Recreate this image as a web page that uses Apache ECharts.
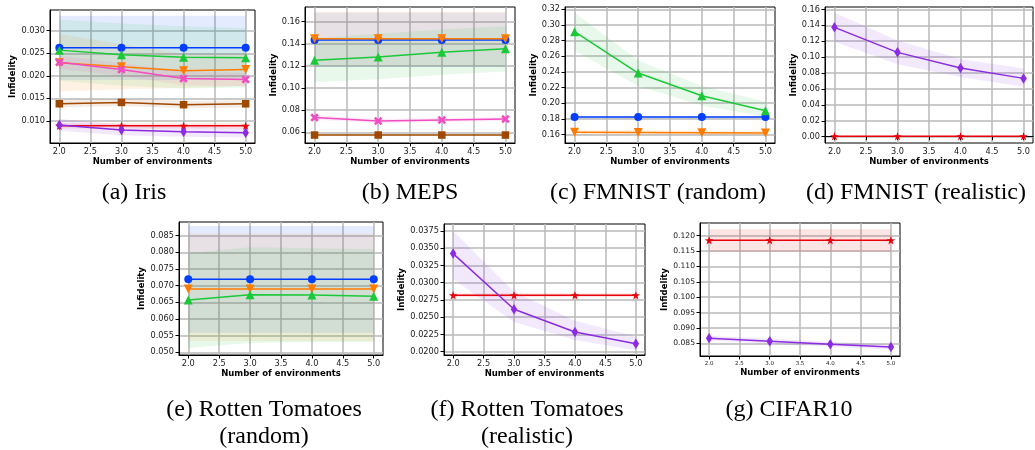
<!DOCTYPE html>
<html><head><meta charset="utf-8">
<script src="https://cdn.jsdelivr.net/npm/echarts@6/dist/echarts.min.js"></script>
<style>html,body{margin:0;padding:0;background:#fff}#c{width:1035px;height:450px}</style>
</head><body><div id="c"></div>
<script>
const envs = [2, 3, 4, 5];
const xTicks = [2.0, 2.5, 3.0, 3.5, 4.0, 4.5, 5.0];

// (a) Iris
const irisTicks = [0.010, 0.015, 0.020, 0.025, 0.030];
const irisBlue = [0.0262, 0.0262, 0.0262, 0.0262];
const irisBlueLo = [0.0191, 0.0191, 0.0191, 0.0191];
const irisBlueHi = [0.0333, 0.0333, 0.0333, 0.0333];
const irisOrange = [0.0229, 0.0220, 0.0211, 0.0214];
const irisOrangeLo = [0.0165, 0.0170, 0.0173, 0.0178];
const irisOrangeHi = [0.0293, 0.0270, 0.0249, 0.0250];
const irisGreen = [0.0257, 0.0247, 0.0241, 0.0240];
const irisGreenLo = [0.0189, 0.0178, 0.0172, 0.0174];
const irisGreenHi = [0.0325, 0.0316, 0.0310, 0.0306];
const irisRed = [0.0089, 0.0089, 0.0089, 0.0089];
const irisRedLo = [0.0083, 0.0083, 0.0083, 0.0083];
const irisRedHi = [0.0095, 0.0095, 0.0095, 0.0095];
const irisPurple = [0.0091, 0.0080, 0.0076, 0.0074];
const irisPurpleLo = [0.0078, 0.0068, 0.0065, 0.0063];
const irisPurpleHi = [0.0104, 0.0092, 0.0087, 0.0085];
const irisBrown = [0.0138, 0.0141, 0.0136, 0.0138];
const irisBrownLo = [0.0130, 0.0133, 0.0128, 0.0130];
const irisBrownHi = [0.0146, 0.0149, 0.0144, 0.0146];
const irisPink = [0.0230, 0.0214, 0.0194, 0.0192];
const irisPinkLo = [0.0215, 0.0200, 0.0179, 0.0177];
const irisPinkHi = [0.0245, 0.0228, 0.0209, 0.0207];

// (b) MEPS
const mepsTicks = [0.06, 0.08, 0.10, 0.12, 0.14, 0.16];
const mepsBlue = [0.1435, 0.1435, 0.1435, 0.1435];
const mepsBlueLo = [0.119, 0.119, 0.119, 0.119];
const mepsBlueHi = [0.168, 0.168, 0.168, 0.168];
const mepsOrange = [0.1445, 0.1445, 0.1445, 0.1445];
const mepsOrangeLo = [0.120, 0.120, 0.120, 0.120];
const mepsOrangeHi = [0.169, 0.169, 0.169, 0.169];
const mepsGreen = [0.1251, 0.1281, 0.1323, 0.1356];
const mepsGreenLo = [0.1055, 0.108, 0.112, 0.115];
const mepsGreenHi = [0.145, 0.149, 0.153, 0.156];
const mepsBrown = [0.0575, 0.0575, 0.0575, 0.0575];
const mepsBrownLo = [0.0569, 0.0569, 0.0569, 0.0569];
const mepsBrownHi = [0.0581, 0.0581, 0.0581, 0.0581];
const mepsPink = [0.0733, 0.0702, 0.0711, 0.0720];
const mepsPinkLo = [0.0713, 0.0684, 0.0693, 0.0702];
const mepsPinkHi = [0.0753, 0.0720, 0.0729, 0.0738];

// (c) FMNIST (random)
const fmrTicks = [0.16, 0.18, 0.20, 0.22, 0.24, 0.26, 0.28, 0.30, 0.32];
const fmrBlue = [0.1822, 0.1822, 0.1822, 0.1822];
const fmrBlueLo = [0.1807, 0.1807, 0.1807, 0.1807];
const fmrBlueHi = [0.1837, 0.1837, 0.1837, 0.1837];
const fmrOrange = [0.1626, 0.1624, 0.1621, 0.1617];
const fmrOrangeLo = [0.1598, 0.1596, 0.1593, 0.1589];
const fmrOrangeHi = [0.1654, 0.1652, 0.1649, 0.1645];
const fmrGreen = [0.2914, 0.2385, 0.2095, 0.1903];
const fmrGreenLo = [0.2671, 0.2220, 0.1970, 0.1826];
const fmrGreenHi = [0.3157, 0.2550, 0.2220, 0.2018];

// (d) FMNIST (realistic)
const fmlTicks = [0.00, 0.02, 0.04, 0.06, 0.08, 0.10, 0.12, 0.14, 0.16];
const fmlRed = [0.0005, 0.0005, 0.0005, 0.0005];
const fmlRedLo = [0.0001, 0.0001, 0.0001, 0.0001];
const fmlRedHi = [0.0009, 0.0009, 0.0009, 0.0009];
const fmlPurple = [0.1374, 0.1060, 0.0863, 0.0733];
const fmlPurpleLo = [0.1194, 0.0910, 0.0751, 0.0628];
const fmlPurpleHi = [0.1558, 0.1210, 0.0975, 0.0858];

// (e) Rotten Tomatoes (random)
const rtrTicks = [0.050, 0.055, 0.060, 0.065, 0.070, 0.075, 0.080, 0.085];
const rtrBlue = [0.0719, 0.0719, 0.0719, 0.0719];
const rtrBlueLo = [0.0559, 0.0559, 0.0559, 0.0559];
const rtrBlueHi = [0.0879, 0.0879, 0.0879, 0.0879];
const rtrOrange = [0.0690, 0.0690, 0.0690, 0.0690];
const rtrOrangeLo = [0.0534, 0.0534, 0.0534, 0.0534];
const rtrOrangeHi = [0.0857, 0.0857, 0.0857, 0.0857];
const rtrGreen = [0.0657, 0.0673, 0.0672, 0.0668];
const rtrGreenLo = [0.0513, 0.0528, 0.0531, 0.0531];
const rtrGreenHi = [0.0797, 0.0815, 0.0812, 0.0809];

// (f) Rotten Tomatoes (realistic)
const rtlTicks = [0.0200, 0.0225, 0.0250, 0.0275, 0.0300, 0.0325, 0.0350, 0.0375];
const rtlRed = [0.02817, 0.02817, 0.02817, 0.02817];
const rtlRedLo = [0.02787, 0.02787, 0.02787, 0.02787];
const rtlRedHi = [0.02847, 0.02847, 0.02847, 0.02847];
const rtlPurple = [0.03421, 0.02614, 0.02285, 0.02116];
const rtlPurpleLo = [0.0305, 0.0243, 0.0217, 0.0202];
const rtlPurpleHi = [0.0375, 0.0287, 0.0245, 0.0222];

// (g) CIFAR10
const cifTicks = [0.085, 0.090, 0.095, 0.100, 0.105, 0.110, 0.115, 0.120];
const cifRed = [0.1185, 0.1185, 0.1185, 0.1185];
const cifRedLo = [0.1147, 0.1147, 0.1147, 0.1147];
const cifRedHi = [0.1221, 0.1221, 0.1221, 0.1221];
const cifPurple = [0.0867, 0.0857, 0.0847, 0.0838];
const cifPurpleLo = [0.0859, 0.0849, 0.0839, 0.0830];
const cifPurpleHi = [0.0875, 0.0865, 0.0855, 0.0846];

const captions = [
  ['(a) Iris'], ['(b) MEPS'], ['(c) FMNIST (random)'], ['(d) FMNIST (realistic)'],
  ['(e) Rotten Tomatoes', '(random)'], ['(f) Rotten Tomatoes', '(realistic)'], ['(g) CIFAR10']
];

const COLORS = {blue:'#023eff', orange:'#ff7c00', green:'#1ac938', red:'#e8000b', purple:'#8b2be2', brown:'#9f4800', pink:'#f14cc1'};
const STAR = 'path://M50,0 L61.8,35.1 L98.6,35.4 L69.1,57.4 L79.4,92.7 L50,71.5 L20.6,92.7 L30.9,57.4 L1.4,35.4 L38.2,35.1 Z';
const XMARK = 'path://M22,0 L50,28 L78,0 L100,22 L72,50 L100,78 L78,100 L50,72 L22,100 L0,78 L28,50 L0,22 Z';
const SYM = {
  blue:{symbol:'circle', size:8, rot:0},
  orange:{symbol:'triangle', size:9, rot:180},
  green:{symbol:'triangle', size:9, rot:0},
  red:{symbol:STAR, size:8.5, rot:0},
  purple:{symbol:'diamond', size:[6.5,10.5], rot:0},
  brown:{symbol:'rect', size:7.5, rot:0},
  pink:{symbol:XMARK, size:8.5, rot:0}
};

const panels = [
  {grid:{left:50,top:10,width:205,height:133}, y:[0.0051,0.0346], ticks:irisTicks, dec:3, yGap:30, xGap:14, cap:[134,193],
   s:[['blue',irisBlue,irisBlueLo,irisBlueHi],['orange',irisOrange,irisOrangeLo,irisOrangeHi],['green',irisGreen,irisGreenLo,irisGreenHi],
      ['red',irisRed,irisRedLo,irisRedHi],['purple',irisPurple,irisPurpleLo,irisPurpleHi],['brown',irisBrown,irisBrownLo,irisBrownHi],['pink',irisPink,irisPinkLo,irisPinkHi]]},
  {grid:{left:305,top:7,width:210,height:136}, y:[0.0503,0.1733], ticks:mepsTicks, dec:2, yGap:27, xGap:14, cap:[410,193],
   s:[['blue',mepsBlue,mepsBlueLo,mepsBlueHi],['orange',mepsOrange,mepsOrangeLo,mepsOrangeHi],['green',mepsGreen,mepsGreenLo,mepsGreenHi],
      ['brown',mepsBrown,mepsBrownLo,mepsBrownHi],['pink',mepsPink,mepsPinkLo,mepsPinkHi]]},
  {grid:{left:565,top:7,width:210,height:136}, y:[0.149,0.323], ticks:fmrTicks, dec:2, yGap:26, xGap:14, cap:[658,193],
   s:[['blue',fmrBlue,fmrBlueLo,fmrBlueHi],['orange',fmrOrange,fmrOrangeLo,fmrOrangeHi],['green',fmrGreen,fmrGreenLo,fmrGreenHi]]},
  {grid:{left:825,top:7,width:208,height:136}, y:[-0.0079,0.163], ticks:fmlTicks, dec:2, yGap:26, xGap:14, cap:[916,193],
   s:[['red',fmlRed,fmlRedLo,fmlRedHi],['purple',fmlPurple,fmlPurpleLo,fmlPurpleHi]]},
  {grid:{left:179,top:222,width:204,height:133}, y:[0.0492,0.0891], ticks:rtrTicks, dec:3, yGap:29, xGap:13, cap:[264,410],
   s:[['blue',rtrBlue,rtrBlueLo,rtrBlueHi],['orange',rtrOrange,rtrOrangeLo,rtrOrangeHi],['green',rtrGreen,rtrGreenLo,rtrGreenHi]]},
  {grid:{left:444,top:224,width:201,height:131}, y:[0.01952,0.0385], ticks:rtlTicks, dec:4, yGap:34, xGap:13, cap:[527,410],
   s:[['red',rtlRed,rtlRedLo,rtlRedHi],['purple',rtlPurple,rtlPurpleLo,rtlPurpleHi]]},
  {grid:{left:700,top:223,width:200,height:133}, y:[0.0809,0.1241], ticks:cifTicks, dec:3, yGap:31, xGap:12, cap:[789,410], small:true,
   s:[['red',cifRed,cifRedLo,cifRedHi],['purple',cifPurple,cifPurpleLo,cifPurpleHi]]}
];

const zip = (a, b) => a.map((v, i) => [v, b[i]]);
const grids = [], xAxes = [], yAxes = [], series = [], graphics = [];
const FONT = 'DejaVu Sans';

function bandSeries(i, color, lo, hi) {
  return {
    type:'custom', xAxisIndex:i, yAxisIndex:i, silent:true, z:1, clip:true, animation:false,
    data: envs.map((x, j) => [x, lo[j], hi[j]]),
    encode:{x:0, y:[1, 2]},
    renderItem: function (params, api) {
      if (params.dataIndex !== 0) return null;
      const top = envs.map((x, j) => api.coord([x, hi[j]]));
      const bot = envs.map((x, j) => api.coord([x, lo[j]])).reverse();
      return {type:'polygon', shape:{points: top.concat(bot)}, style:{fill:color, opacity:0.1}};
    }
  };
}

panels.forEach((p, i) => {
  grids.push(Object.assign({show:true, borderColor:'#000', borderWidth:1, containLabel:false}, p.grid));
  xAxes.push({type:'value', gridIndex:i, min:1.85, max:5.15,
    name:'Number of environments', nameLocation:'middle', nameGap:p.xGap,
    nameTextStyle:{fontFamily:FONT, fontWeight:'bold', fontSize:8.5, color:'#000'},
    axisLine:{show:true, lineStyle:{color:'#000', width:1}},
    axisTick:{show:true, length:3.5, customValues:xTicks, lineStyle:{color:'#000'}},
    axisLabel:{customValues:xTicks, margin:5, fontFamily:FONT, fontSize:p.small?5.5:8.2, color:'#1a1a1a', formatter:v=>v.toFixed(1)},
    splitLine:{show:true, customValues:xTicks, lineStyle:{color:'#b8b8b8', width:1.5}}
  });
  yAxes.push({type:'value', gridIndex:i, min:p.y[0], max:p.y[1],
    name:'Infidelity', nameLocation:'middle', nameGap:p.yGap, nameRotate:90,
    nameTextStyle:{fontFamily:FONT, fontWeight:'bold', fontSize:8.5, color:'#000'},
    axisLine:{show:true, lineStyle:{color:'#000', width:1}},
    axisTick:{show:true, length:3.5, customValues:p.ticks, lineStyle:{color:'#000'}},
    axisLabel:{customValues:p.ticks, margin:5, fontFamily:FONT, fontSize:p.small?7.6:8.2, color:'#1a1a1a', formatter:v=>v.toFixed(p.dec)},
    splitLine:{show:true, customValues:p.ticks, lineStyle:{color:'#b8b8b8', width:1.5}}
  });
  p.s.forEach(([c, v, lo, hi]) => series.push(bandSeries(i, COLORS[c], lo, hi)));
  p.s.forEach(([c, v], k) => {
    const m = SYM[c];
    series.push({type:'line', name:c, xAxisIndex:i, yAxisIndex:i, data:zip(envs, v), symbol:m.symbol, symbolSize:m.size,
      symbolRotate:m.rot, showSymbol:true, color:COLORS[c], lineStyle:{color:COLORS[c], width:1.5},
      itemStyle:{color:COLORS[c], borderWidth:0}, z:3+k, animation:false});
  });
  captions[i].forEach((t, j) => {
    graphics.push({type:'text', x:p.cap[0], y:p.cap[1] + j*27, style:{text:t, align:'center', verticalAlign:'middle',
      font:'24px "Liberation Serif"', fill:'#000'}});
  });
});

const chart = echarts.init(document.getElementById('c'), null, {renderer:'canvas'});
chart.setOption({backgroundColor:'#fff', animation:false, grid:grids, xAxis:xAxes, yAxis:yAxes, series:series, graphic:graphics});
</script></body></html>
